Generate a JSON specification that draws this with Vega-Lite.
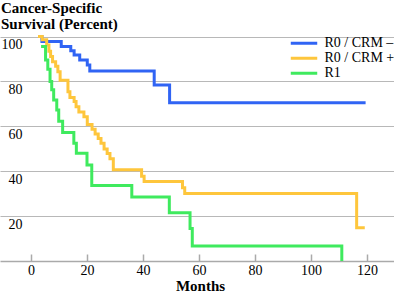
{
  "$schema": "https://vega.github.io/schema/vega-lite/v6.json",
  "width": 394,
  "height": 228,
  "autosize": {"type": "none"},
  "padding": {"left": 0, "right": 0, "top": 33, "bottom": 35},
  "background": "white",
  "config": {"view": {"stroke": null}, "font": "Liberation Serif, DejaVu Serif, serif"},
  "title": {
    "text": ["Cancer-Specific", "Survival (Percent)"],
    "anchor": "start",
    "frame": "group",
    "font": "Liberation Serif, DejaVu Serif, serif",
    "fontSize": 15,
    "fontWeight": "bold",
    "color": "black",
    "lineHeight": 16,
    "offset": -1.5,
    "dx": 1
  },
  "data": {
    "values": [
      {"group": "R0 / CRM –", "month": 2.9, "survival": 100},
      {"group": "R0 / CRM –", "month": 3.9, "survival": 97.8},
      {"group": "R0 / CRM –", "month": 10.8, "survival": 95.5},
      {"group": "R0 / CRM –", "month": 14.2, "survival": 93.7},
      {"group": "R0 / CRM –", "month": 15.4, "survival": 91.8},
      {"group": "R0 / CRM –", "month": 17.4, "survival": 89.5},
      {"group": "R0 / CRM –", "month": 20.1, "survival": 87.3},
      {"group": "R0 / CRM –", "month": 21.0, "survival": 84.6},
      {"group": "R0 / CRM –", "month": 44.0, "survival": 78.4},
      {"group": "R0 / CRM –", "month": 49.5, "survival": 70.5},
      {"group": "R0 / CRM –", "month": 119.5, "survival": 70.5},
      {"group": "R0 / CRM +", "month": 2.5, "survival": 100},
      {"group": "R0 / CRM +", "month": 4.0, "survival": 98.6},
      {"group": "R0 / CRM +", "month": 5.6, "survival": 96.2},
      {"group": "R0 / CRM +", "month": 6.4, "survival": 93.4},
      {"group": "R0 / CRM +", "month": 7.0, "survival": 91.1},
      {"group": "R0 / CRM +", "month": 7.7, "survival": 88.8},
      {"group": "R0 / CRM +", "month": 8.8, "survival": 86.7},
      {"group": "R0 / CRM +", "month": 9.6, "survival": 84.3},
      {"group": "R0 / CRM +", "month": 10.4, "survival": 80.5},
      {"group": "R0 / CRM +", "month": 13.2, "survival": 75.4},
      {"group": "R0 / CRM +", "month": 13.9, "survival": 72.8},
      {"group": "R0 / CRM +", "month": 15.4, "survival": 71.0},
      {"group": "R0 / CRM +", "month": 16.1, "survival": 68.7},
      {"group": "R0 / CRM +", "month": 17.1, "survival": 66.4},
      {"group": "R0 / CRM +", "month": 18.9, "survival": 64.3},
      {"group": "R0 / CRM +", "month": 20.1, "survival": 60.8},
      {"group": "R0 / CRM +", "month": 21.8, "survival": 58.7},
      {"group": "R0 / CRM +", "month": 22.9, "survival": 56.6},
      {"group": "R0 / CRM +", "month": 24.0, "survival": 54.6},
      {"group": "R0 / CRM +", "month": 25.0, "survival": 52.4},
      {"group": "R0 / CRM +", "month": 26.1, "survival": 49.9},
      {"group": "R0 / CRM +", "month": 27.2, "survival": 47.9},
      {"group": "R0 / CRM +", "month": 28.2, "survival": 45.6},
      {"group": "R0 / CRM +", "month": 29.4, "survival": 40.6},
      {"group": "R0 / CRM +", "month": 39.5, "survival": 37.8},
      {"group": "R0 / CRM +", "month": 40.4, "survival": 35.4},
      {"group": "R0 / CRM +", "month": 54.1, "survival": 32.6},
      {"group": "R0 / CRM +", "month": 54.9, "survival": 30.1},
      {"group": "R0 / CRM +", "month": 116.3, "survival": 14.8},
      {"group": "R0 / CRM +", "month": 119.2, "survival": 14.8},
      {"group": "R1", "month": 3.6, "survival": 95.5},
      {"group": "R1", "month": 5.2, "survival": 89.5},
      {"group": "R1", "month": 6.0, "survival": 85.4},
      {"group": "R1", "month": 6.8, "survival": 80.0},
      {"group": "R1", "month": 7.4, "survival": 76.3},
      {"group": "R1", "month": 8.1, "survival": 71.7},
      {"group": "R1", "month": 9.2, "survival": 67.3},
      {"group": "R1", "month": 9.9, "survival": 62.3},
      {"group": "R1", "month": 11.3, "survival": 57.2},
      {"group": "R1", "month": 15.3, "survival": 52.4},
      {"group": "R1", "month": 16.2, "survival": 48.0},
      {"group": "R1", "month": 20.0, "survival": 42.8},
      {"group": "R1", "month": 21.7, "survival": 33.6},
      {"group": "R1", "month": 36.0, "survival": 28.5},
      {"group": "R1", "month": 49.4, "survival": 21.5},
      {"group": "R1", "month": 56.8, "survival": 14.5},
      {"group": "R1", "month": 57.6, "survival": 6.7},
      {"group": "R1", "month": 111.0, "survival": 0}
    ]
  },
  "mark": {"type": "line", "interpolate": "step-after", "strokeWidth": 3},
  "encoding": {
    "x": {
      "field": "month",
      "type": "quantitative",
      "scale": {"domain": [-11.07, 129.64], "nice": false, "zero": false},
      "axis": {
        "values": [0, 20, 40, 60, 80, 100, 120],
        "grid": false,
        "domain": true,
        "domainColor": "#aaaaaa",
        "domainWidth": 1.5,
        "ticks": true,
        "tickSize": -7,
        "tickColor": "#aaaaaa",
        "tickWidth": 1.5,
        "labelPadding": 9,
        "labelFont": "Liberation Serif, DejaVu Serif, serif",
        "labelFontSize": 14,
        "labelColor": "black",
        "labelFlush": false,
        "title": "Months",
        "titleFont": "Liberation Serif, DejaVu Serif, serif",
        "titleFontSize": 15,
        "titleFontWeight": "bold",
        "titleColor": "black",
        "titleX": 200,
        "titleY": 29,
        "titleAlign": "center",
        "titleBaseline": "alphabetic"
      }
    },
    "y": {
      "field": "survival",
      "type": "quantitative",
      "scale": {"domain": [0, 101.56], "nice": false},
      "axis": {
        "values": [20, 40, 60, 80, 100],
        "grid": true,
        "gridColor": "#b8b8b8",
        "gridWidth": 1.2,
        "domain": false,
        "ticks": false,
        "labelAlign": "right",
        "labelBaseline": "top",
        "labelPadding": -22,
        "labelOffset": 1,
        "labelFont": "Liberation Serif, DejaVu Serif, serif",
        "labelFontSize": 14,
        "labelColor": "black",
        "labelFlush": false,
        "title": null
      }
    },
    "color": {
      "field": "group",
      "type": "nominal",
      "scale": {
        "domain": ["R0 / CRM –", "R0 / CRM +", "R1"],
        "range": ["#3064f4", "#fec63c", "#3fea5e"]
      },
      "legend": {
        "title": null,
        "orient": "none",
        "legendX": 289,
        "legendY": 3.5,
        "padding": 0,
        "symbolType": "stroke",
        "symbolSize": 700,
        "symbolStrokeWidth": 3,
        "clipHeight": 13.5,
        "labelOffset": 5.5,
        "labelFont": "Liberation Serif, DejaVu Serif, serif",
        "labelFontSize": 14,
        "labelColor": "black",
        "rowPadding": 0
      }
    }
  }
}
